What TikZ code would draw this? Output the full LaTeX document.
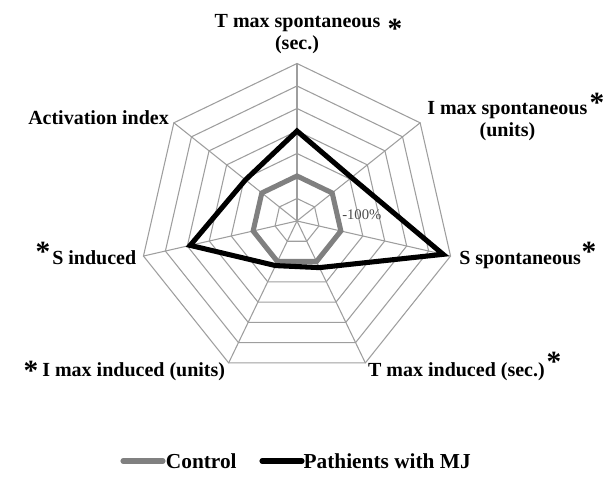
\documentclass[tikz,border=0pt]{standalone}
\usepackage{fontspec}
\setmainfont{Liberation Serif}
\usetikzlibrary{positioning}
\begin{document}
\begin{tikzpicture}[x=0.75pt,y=0.75pt,line cap=round,
	grid/.style={draw=black!38,line width=0.8pt},
	ctrl/.style={draw=black!50,line width=3.8pt},
	mj/.style={draw=black,line width=3.8pt},
	lab/.style={inner sep=0pt,font=\fontsize{15}{17}\selectfont\bfseries},
	sig/.style={inner sep=0pt,anchor=base,font=\fontsize{22}{22}\selectfont\bfseries},
	leg/.style={inner sep=0pt,font=\fontsize{16}{18}\selectfont\bfseries}]
	\useasboundingbox (0,0) rectangle (615,477);
	\def\st{22.5}
	\begin{scope}[shift={(297,256)}]
		% web
		\foreach \k in {1,...,7}
		\draw[grid] (90:{\k*\st}) \foreach \i in {1,...,6}{-- ({90-\i*360/7}:{\k*\st})} -- cycle;
		\foreach \i in {0,...,6}
		\draw[grid] (0,0) -- ({90-\i*360/7}:{7*\st});
		% series
		\draw[ctrl] (90:{2*\st}) \foreach \i in {1,...,6}{-- ({90-\i*360/7}:{2*\st})} -- cycle;
		\draw[mj] (90:{4*\st}) -- ({90-360/7}:{3.1*\st}) -- ({90-2*360/7}:{6.66*\st})
		-- ({90-3*360/7}:{2.3*\st}) -- ({90-4*360/7}:{2.2*\st})
		-- ({90-5*360/7}:{4.87*\st}) -- ({90-6*360/7}:{2.93*\st}) -- cycle;
	\end{scope}
	\node[inner sep=0pt,anchor=base west,text=black!70,font=\fontsize{11}{13}\selectfont] (pct) at (342,257) {-100\%};
	% axis labels
	\node[lab,anchor=base] (lTs) at (297.5,449) {T max spontaneous};
	\node[lab,anchor=base] (lTs2) at (297,427) {(sec.)};
	\node[lab,anchor=base west] (lIs) at (427,362) {I max spontaneous};
	\node[lab,anchor=base] (lIs2) at (507.5,340) {(units)};
	\node[lab,anchor=base west] (lSs) at (459,212) {S spontaneous};
	\node[lab,anchor=base east] (lTi) at (545,100) {T max induced (sec.)};
	\node[lab,anchor=base west] (lIi) at (42,100) {I max induced (units)};
	\node[lab,anchor=base west] (lSi) at (52,212) {S induced};
	\node[lab,anchor=base west] (lAi) at (28,352) {Activation index};
	% asterisks
	\node[sig] (s1) at (395,438) {*};
	\node[sig] (s2) at (597,364) {*};
	\node[sig] (s3) at (589,215) {*};
	\node[sig] (s4) at (554,105) {*};
	\node[sig] (s5) at (31,96) {*};
	\node[sig] (s6) at (43,215) {*};
	% legend
	\draw[ctrl] (123,16) coordinate (c0) -- (163,16) coordinate (c1);
	\node[leg,right=2pt of c1] (lc) {Control};
	\draw[mj] (262,16) coordinate (m0) -- (302,16) coordinate (m1);
	\node[leg,right=1pt of m1] (lm) {Pathients with MJ};
\end{tikzpicture}
\end{document}
